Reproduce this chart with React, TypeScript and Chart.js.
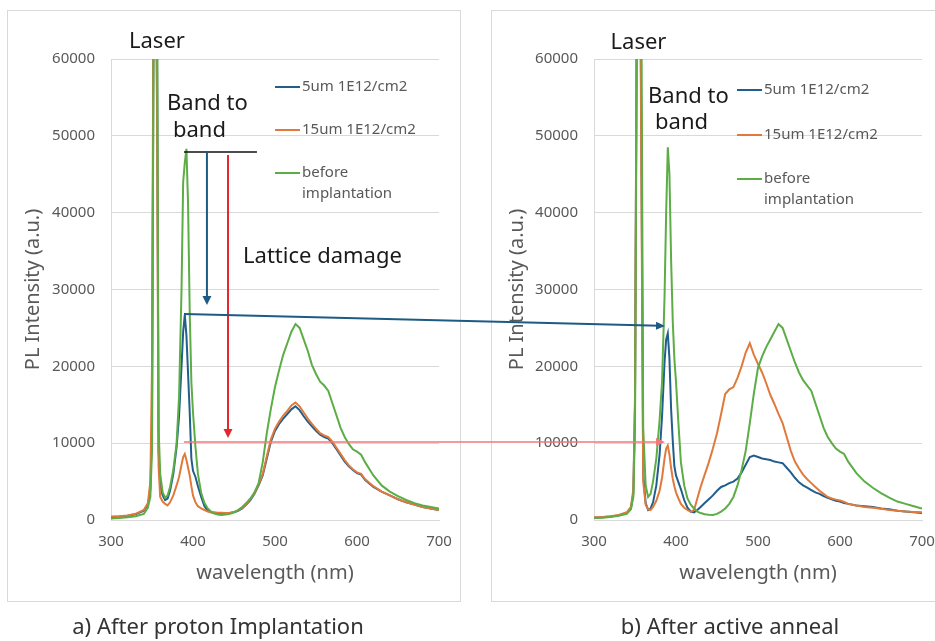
import React, { useEffect, useRef } from "react";
import { Chart, registerables } from "chart.js";
Chart.register(...registerables);

// ---------- data ----------
const wavelengths = [
  300, 310, 320, 330, 340, 345, 348, 350, 352, 354, 356, 358, 360, 363, 366, 369, 372, 376, 380, 383,
  386, 388, 390, 392, 394, 396, 398, 400, 403, 406, 410, 414, 418, 422, 426, 430, 435, 440, 445, 450,
  455, 460, 465, 470, 475, 480, 485, 490, 495, 500, 505, 510, 515, 520, 525, 530, 535, 540, 545, 550,
  555, 560, 565, 570, 575, 580, 585, 590, 595, 600, 605, 610, 620, 630, 640, 650, 660, 670, 680, 690, 700,
];

const seriesNames = ["5um 1E12/cm2", "15um 1E12/cm2", "before implantation"];
const seriesColors = ["#215e8c", "#e07a3c", "#5cad45"];

// a) After proton implantation
const implantBlue = [
  400, 450, 550, 750, 1200, 2000, 4000, 12000, 68000, 80000, 68000, 9000, 4500, 3200, 2600, 2800, 3800, 6000, 9500, 13500,
  20000, 24500, 26700, 24000, 19000, 14000, 8000, 6400, 5600, 4400, 3000, 1800, 1200, 1000, 900, 900, 850, 850, 900, 1000,
  1200, 1500, 2000, 2600, 3400, 4500, 5800, 8000, 10200, 11600, 12500, 13200, 13800, 14400, 14800, 14300, 13500, 12800, 12200, 11600,
  11100, 10800, 10600, 10000, 9200, 8400, 7600, 7000, 6500, 6100, 5900, 5200, 4300, 3700, 3200, 2700, 2300, 2000, 1700, 1500, 1300,
];
const implantOrange = [
  450, 500, 600, 800, 1300, 2200, 5000, 20000, 75000, 72000, 55000, 7000, 3000, 2400, 2100, 1900, 2300, 3200, 4500, 5600,
  7200, 8200, 8600, 7800, 6800, 5800, 4400, 3200, 2300, 1800, 1500, 1300, 1100, 1000, 1000, 950, 950, 900, 950, 1050,
  1250, 1600, 2100, 2700, 3500, 4600, 6000, 8300, 10500, 11900, 12800, 13600, 14200, 14900, 15300, 14800, 14000, 13200, 12500, 11900,
  11300, 11000, 10800, 10200, 9400, 8600, 7800, 7100, 6600, 6200, 6000, 5300, 4400, 3700, 3200, 2700, 2300, 2000, 1700, 1500, 1300,
];
const implantGreen = [
  200, 250, 350, 500, 800, 1600, 3000, 9000, 65000, 85000, 75000, 12000, 6000, 3600, 2900, 3200, 4300, 6500, 10000, 16000,
  30000, 44000, 46500, 48300, 41000, 27000, 18000, 14000, 9500, 6000, 3500, 2200, 1500, 1100, 850, 700, 650, 700, 800, 1000,
  1300, 1700, 2200, 2800, 3600, 4800, 7500, 11300, 14500, 17300, 19500, 21500, 23000, 24500, 25500, 25000, 23500, 22000, 20200, 19000,
  18000, 17500, 16800, 15200, 13600, 12000, 10800, 9900, 9200, 8900, 8500, 7500, 5800, 4500, 3700, 3100, 2600, 2200, 1900, 1700, 1500,
];

// b) After active anneal
const annealBlue = [
  300, 350, 450, 600, 900, 1500, 3500, 15000, 62000, 82000, 80000, 45000, 6000, 2200, 1300, 1500, 2300, 4500, 8500, 13500,
  20500, 23500, 24300, 21000, 14500, 10400, 7000, 5800, 4900, 4000, 2600, 1600, 1100, 1000, 1300, 1700, 2200, 2700, 3200, 3800,
  4300, 4500, 4800, 5000, 5400, 6200, 7200, 8200, 8400, 8200, 8000, 7900, 7800, 7600, 7500, 7400, 6800, 6200, 5500, 4900,
  4500, 4200, 3900, 3600, 3400, 3100, 2900, 2700, 2500, 2400, 2200, 2100, 1900, 1800, 1700, 1500, 1400, 1200, 1100, 1000, 900,
];
const annealOrange = [
  350, 400, 500, 650, 1000, 1700, 4000, 16000, 64000, 80000, 78000, 40000, 5000, 2000, 1400, 1300, 1700, 2500, 3800, 5500,
  8000, 9300, 9700, 8500, 6800, 5400, 4400, 3600, 2800, 2100, 1600, 1300, 1050, 1300, 2800, 4300, 5900, 7500, 9300, 11300,
  13800, 16400, 17000, 17300, 18500, 20000, 21800, 23000, 21500, 20300, 19200, 17800, 16300, 15100, 13800, 12600, 10800, 9000, 7600, 6700,
  5900, 5300, 4800, 4300, 3800, 3400, 3000, 2800, 2650, 2550, 2350, 2100, 1900, 1700, 1600, 1450, 1300, 1200, 1100, 1050, 1000,
];
const annealGreen = [
  250, 300, 400, 550, 800, 1400, 3000, 12000, 58000, 82000, 85000, 62000, 12000, 4500, 3000, 3400, 5000, 8000, 13000, 18000,
  29000, 40000, 48500, 45000, 34000, 26000, 21000, 18000, 12500, 7500, 4500, 2800, 2000, 1500, 1100, 900, 750, 680, 650, 800,
  1100, 1500, 2100, 3000, 4500, 6500, 9000, 12600, 16500, 19800, 21300, 22500, 23500, 24500, 25500, 25000, 23500, 22000, 20500, 19200,
  18200, 17500, 16800, 15200, 13600, 12000, 10800, 10000, 9300, 8900, 8600, 7600, 6100, 5000, 4200, 3500, 2900, 2400, 2100, 1800, 1500,
];

const xMin = 300;
const xMax = 700;
const xStep = 100;
const yMin = 0;
const yMax = 60000;
const yStep = 10000;

const xTitle = "wavelength (nm)";
const yTitle = "PL Intensity (a.u.)";
const captionA = "a) After proton Implantation";
const captionB = "b) After active anneal";

// ---------- layout / style ----------
const LEFT_BOX = { x: 7, y: 10, w: 453, h: 592 };
const RIGHT_BOX = { x: 491, y: 10, w: 444, h: 592 };
const TICK_COLOR = "#595959";
const GRID_COLOR = "#d9d9d9";
const FONT = '"Noto Sans", "DejaVu Sans", sans-serif';

const legendPlugin = (dx: number, rows: number[]) => ({
  id: "customLegend",
  afterDraw(chart: any) {
    const { ctx, chartArea } = chart;
    ctx.save();
    ctx.font = `15px ${FONT}`;
    ctx.textBaseline = "middle";
    ctx.textAlign = "left";
    seriesNames.forEach((name, i) => {
      const y = chartArea.top + rows[i];
      const x = chartArea.left + dx;
      ctx.strokeStyle = seriesColors[i];
      ctx.lineWidth = 2;
      ctx.beginPath();
      ctx.moveTo(x, y);
      ctx.lineTo(x + 25, y);
      ctx.stroke();
      ctx.fillStyle = TICK_COLOR;
      const words = name === "before implantation" ? ["before", "implantation"] : [name];
      words.forEach((w, k) => ctx.fillText(w, x + 27, y + k * 21));
    });
    ctx.restore();
  },
});

function makeConfig(series: number[][], yWidth: number, padRight: number, dx: number, rows: number[]): any {
  return {
    type: "line",
    data: {
      datasets: series.map((vals, i) => ({
        label: seriesNames[i],
        data: wavelengths.map((w, j) => ({ x: w, y: vals[j] })),
        borderColor: seriesColors[i],
        backgroundColor: seriesColors[i],
        borderWidth: 2,
        pointRadius: 0,
        tension: 0,
        fill: false,
        order: 3 - i,
      })),
    },
    options: {
      responsive: false,
      animation: false,
      layout: { padding: { left: 0, top: 49, right: padRight, bottom: 0 } },
      plugins: { legend: { display: false }, tooltip: { enabled: false } },
      scales: {
        x: {
          type: "linear",
          min: xMin,
          max: xMax,
          ticks: { stepSize: xStep, padding: 13, color: TICK_COLOR, font: { family: FONT, size: 15 }, callback: (v: any) => String(v) },
          grid: { display: false, drawTicks: false },
          border: { display: true, color: GRID_COLOR, width: 1 },
          title: { display: true, text: xTitle, color: TICK_COLOR, font: { family: FONT, size: 20 }, padding: { top: 0, bottom: 17 } },
          afterFit: (s: any) => {
            s.height = 82;
            s.paddingLeft = 0;
            s.paddingRight = 0;
          },
        },
        y: {
          type: "linear",
          min: yMin,
          max: yMax,
          ticks: { stepSize: yStep, padding: 16, color: TICK_COLOR, font: { family: FONT, size: 15 }, callback: (v: any) => String(v) },
          grid: { color: GRID_COLOR, drawTicks: false, lineWidth: 1 },
          border: { display: true, color: GRID_COLOR, width: 1 },
          title: { display: true, text: yTitle, color: TICK_COLOR, font: { family: FONT, size: 20 }, padding: { top: 14, bottom: 0 } },
          afterFit: (s: any) => {
            s.width = yWidth;
          },
        },
      },
    },
    plugins: [legendPlugin(dx, rows)],
  };
}

// annotation anchors in data units [nm, intensity]
const laserLabelA = [356, 62200];
const bandLabelA = [[368.3, 54150], [375.6, 50630]];
const latticeLabelA = [461, 34230];
const laserLabelB = [354.3, 62100];
const bandLabelB = [[365.9, 55060], [374.4, 51670]];
const bandLevelLine = [389, 478, 47900];
const blueDrop = [417, 47900, 27980];
const redDrop = [442.7, 47500, 10670];
const blueLinkFrom = [389, 26800];
const blueLinkTo = [386.6, 25250];
const pinkLinkFrom = [389, 10150];
const pinkLinkTo = [386.6, 10150];

function arrow(ctx: CanvasRenderingContext2D, x1: number, y1: number, x2: number, y2: number, color: string, width: number, head = 9, half = 4.5) {
  const dx = x2 - x1;
  const dy = y2 - y1;
  const len = Math.hypot(dx, dy);
  const ux = dx / len;
  const uy = dy / len;
  ctx.strokeStyle = color;
  ctx.fillStyle = color;
  ctx.lineWidth = width;
  ctx.beginPath();
  ctx.moveTo(x1, y1);
  ctx.lineTo(x2 - ux * head * 0.6, y2 - uy * head * 0.6);
  ctx.stroke();
  ctx.beginPath();
  ctx.moveTo(x2, y2);
  ctx.lineTo(x2 - ux * head - uy * half, y2 - uy * head + ux * half);
  ctx.lineTo(x2 - ux * head + uy * half, y2 - uy * head - ux * half);
  ctx.closePath();
  ctx.fill();
}

function drawOverlay(canvas: HTMLCanvasElement, a: Chart, b: Chart) {
  const ctx = canvas.getContext("2d")!;
  ctx.clearRect(0, 0, canvas.width, canvas.height);
  const A = (nm: number, v: number) => [LEFT_BOX.x + a.scales.x.getPixelForValue(nm), LEFT_BOX.y + a.scales.y.getPixelForValue(v)];
  const B = (nm: number, v: number) => [RIGHT_BOX.x + b.scales.x.getPixelForValue(nm), RIGHT_BOX.y + b.scales.y.getPixelForValue(v)];

  ctx.save();
  ctx.font = `22px ${FONT}`;
  ctx.fillStyle = "#1a1a1a";
  ctx.textBaseline = "middle";
  ctx.textAlign = "center";
  let p = A(laserLabelA[0], laserLabelA[1]);
  ctx.fillText("Laser", p[0], p[1]);
  p = B(laserLabelB[0], laserLabelB[1]);
  ctx.textAlign = "left";
  ctx.fillText("Laser", p[0] - 28, p[1]);
  ["Band to", "band"].forEach((t, i) => {
    const q = A(bandLabelA[i][0], bandLabelA[i][1]);
    ctx.fillText(t, q[0], q[1]);
    const r = B(bandLabelB[i][0], bandLabelB[i][1]);
    ctx.fillText(t, r[0], r[1]);
  });
  p = A(latticeLabelA[0], latticeLabelA[1]);
  ctx.fillText("Lattice damage", p[0], p[1]);

  // black level line
  const l1 = A(bandLevelLine[0], bandLevelLine[2]);
  const l2 = A(bandLevelLine[1], bandLevelLine[2]);
  ctx.strokeStyle = "#111111";
  ctx.lineWidth = 1.6;
  ctx.beginPath();
  ctx.moveTo(l1[0], l1[1]);
  ctx.lineTo(l2[0], l2[1]);
  ctx.stroke();

  // vertical drops
  let s = A(blueDrop[0], blueDrop[1]);
  let e = A(blueDrop[0], blueDrop[2]);
  arrow(ctx, s[0], s[1], e[0], e[1], "#1d5a84", 2, 9, 4.5);
  s = A(redDrop[0], redDrop[1]);
  e = A(redDrop[0], redDrop[2]);
  arrow(ctx, s[0], s[1], e[0], e[1], "#e3262f", 2, 9, 4.5);

  // links between panels
  s = A(blueLinkFrom[0], blueLinkFrom[1]);
  e = B(blueLinkTo[0], blueLinkTo[1]);
  arrow(ctx, s[0], s[1], e[0], e[1], "#1d5a84", 2, 9, 4);
  s = A(pinkLinkFrom[0], pinkLinkFrom[1]);
  e = B(pinkLinkTo[0], pinkLinkTo[1]);
  arrow(ctx, s[0], s[1], e[0], e[1], "#f2787a", 1.6, 9, 4);
  ctx.restore();
}

export default function App() {
  const leftRef = useRef<HTMLCanvasElement>(null);
  const rightRef = useRef<HTMLCanvasElement>(null);
  const overRef = useRef<HTMLCanvasElement>(null);

  useEffect(() => {
    const a = new Chart(
      leftRef.current!,
      makeConfig([implantBlue, implantOrange, implantGreen], 104, 21, 164, [28, 71, 114])
    );
    const b = new Chart(
      rightRef.current!,
      makeConfig([annealBlue, annealOrange, annealGreen], 103, 13, 143, [31, 76, 120])
    );
    drawOverlay(overRef.current!, a, b);
    return () => {
      a.destroy();
      b.destroy();
    };
  }, []);

  const boxStyle = (bx: any): React.CSSProperties => ({
    position: "absolute",
    left: bx.x,
    top: bx.y,
    width: bx.w + 1,
    height: bx.h,
    border: "1px solid #d9d9d9",
    boxSizing: "border-box",
  });

  return (
    <div style={{ position: "absolute", left: 0, top: 0, width: 935, height: 641, background: "#fff", overflow: "hidden", fontFamily: FONT }}>
      <div style={boxStyle(LEFT_BOX)} />
      <div style={{ ...boxStyle(RIGHT_BOX), width: RIGHT_BOX.w + 5 }} />
      <canvas ref={leftRef} width={LEFT_BOX.w} height={LEFT_BOX.h} style={{ position: "absolute", left: LEFT_BOX.x, top: LEFT_BOX.y }} />
      <canvas ref={rightRef} width={RIGHT_BOX.w} height={RIGHT_BOX.h} style={{ position: "absolute", left: RIGHT_BOX.x, top: RIGHT_BOX.y }} />
      <canvas ref={overRef} width={935} height={641} style={{ position: "absolute", left: 0, top: 0, pointerEvents: "none" }} />
      <div style={{ position: "absolute", left: 0, top: 610, width: 436, textAlign: "center", fontSize: 22, color: "#333", lineHeight: "30px" }}>
        {captionA}
      </div>
      <div style={{ position: "absolute", left: 500, top: 610, width: 460, textAlign: "center", fontSize: 22, color: "#333", lineHeight: "30px" }}>
        {captionB}
      </div>
    </div>
  );
}
